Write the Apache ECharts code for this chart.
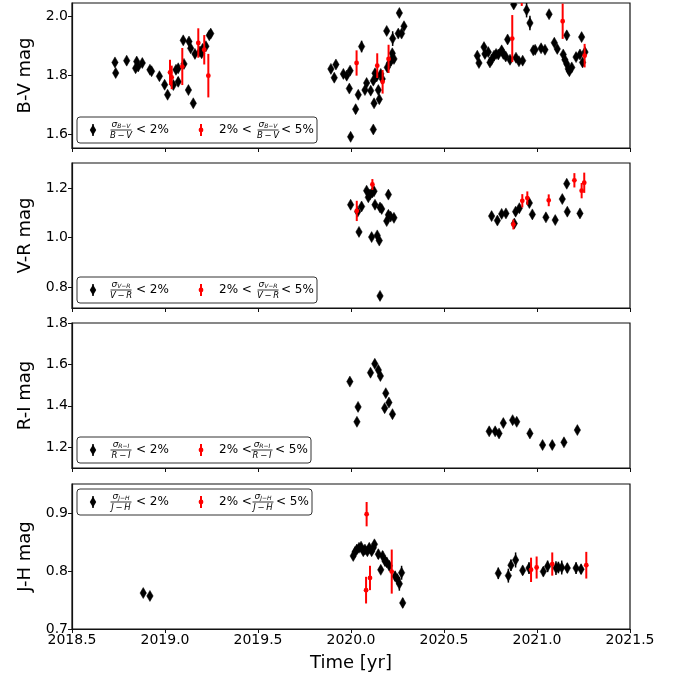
<!DOCTYPE html>
<html>
<head>
<meta charset="utf-8">
<script src="https://cdn.jsdelivr.net/npm/echarts@6/dist/echarts.min.js"></script>
<style>
  html, body { margin: 0; padding: 0; background: #fff; }
  #chart { width: 675px; height: 680px; }
</style>
</head>
<body>
<div id="chart"></div>
<script>
// ---- B-V colour index: precise points (sigma < 2%) ----
const bvBlackT = [2018.731, 2018.735, 2018.794, 2018.842, 2018.848, 2018.856, 2018.878, 2018.919, 2018.928, 2018.970,
  2018.998, 2019.014, 2019.045, 2019.059, 2019.071, 2019.071, 2019.102, 2019.098, 2019.129, 2019.126,
  2019.138, 2019.152, 2019.161, 2019.188, 2019.197, 2019.202, 2019.220, 2019.238, 2019.246,
  2019.892, 2019.910, 2019.919, 2019.959, 2019.977, 2019.991, 2019.995, 2019.998, 2020.025, 2020.039,
  2020.057, 2020.075, 2020.084, 2020.106, 2020.120, 2020.124, 2020.120, 2020.129, 2020.138, 2020.147,
  2020.152, 2020.160, 2020.168, 2020.192, 2020.195, 2020.206, 2020.215, 2020.222, 2020.224, 2020.231,
  2020.254, 2020.260, 2020.272, 2020.285,
  2020.679, 2020.688, 2020.715, 2020.720, 2020.738, 2020.747, 2020.756, 2020.769, 2020.780, 2020.792,
  2020.810, 2020.819, 2020.832, 2020.842, 2020.855, 2020.875, 2020.887, 2020.903, 2020.923, 2020.944,
  2020.962, 2020.980, 2020.990, 2021.022, 2021.043, 2021.065, 2021.093, 2021.109, 2021.141, 2021.150,
  2021.160, 2021.160, 2021.168, 2021.174, 2021.187, 2021.210, 2021.231, 2021.240, 2021.245, 2021.258];
const bvBlackV = [1.843, 1.807, 1.849, 1.823, 1.846, 1.829, 1.841, 1.818, 1.813, 1.796,
  1.767, 1.733, 1.766, 1.818, 1.823, 1.777, 1.838, 1.918, 1.914, 1.749,
  1.891, 1.704, 1.872, 1.880, 1.874, 1.889, 1.898, 1.935, 1.941,
  1.821, 1.791, 1.836, 1.804, 1.798, 1.754, 1.815, 1.590, 1.684, 1.733,
  1.897, 1.749, 1.773, 1.747, 1.615, 1.704, 1.781, 1.806, 1.795, 1.749,
  1.718, 1.804, 1.787, 1.950, 1.826, 1.840, 1.849, 1.874, 1.924, 1.855,
  1.941, 2.011, 1.941, 1.966,
  1.866, 1.841, 1.895, 1.872, 1.878, 1.843, 1.852, 1.866, 1.872, 1.870,
  1.884, 1.872, 1.863, 1.921, 1.852, 2.040, 1.859, 1.847, 1.849, 2.021,
  1.977, 1.884, 1.886, 1.891, 1.886, 2.007, 1.910, 1.889, 1.870, 1.852,
  1.935, 1.838, 1.821, 1.813, 1.826, 1.861, 1.870, 1.929, 1.843, 1.878];
const bvBlackE = [0.008, 0.008, 0.008, 0.008, 0.008, 0.008, 0.008, 0.008, 0.008, 0.008,
  0.008, 0.008, 0.008, 0.010, 0.010, 0.015, 0.010, 0.010, 0.010, 0.010,
  0.010, 0.010, 0.010, 0.010, 0.010, 0.010, 0.010, 0.010, 0.010,
  0.008, 0.008, 0.008, 0.008, 0.008, 0.008, 0.008, 0.010, 0.015, 0.010,
  0.020, 0.010, 0.010, 0.010, 0.010, 0.010, 0.010, 0.010, 0.010, 0.010,
  0.010, 0.010, 0.010, 0.010, 0.010, 0.010, 0.010, 0.010, 0.025, 0.010,
  0.010, 0.010, 0.010, 0.010,
  0.008, 0.008, 0.008, 0.008, 0.008, 0.008, 0.008, 0.008, 0.008, 0.008,
  0.008, 0.008, 0.008, 0.010, 0.008, 0.010, 0.008, 0.008, 0.008, 0.025,
  0.025, 0.008, 0.008, 0.008, 0.008, 0.010, 0.010, 0.008, 0.010, 0.010,
  0.015, 0.010, 0.010, 0.010, 0.010, 0.010, 0.010, 0.010, 0.010, 0.010];
// ---- B-V: 2% < sigma < 5% ----
const bvRedT = [2019.027, 2019.036, 2019.093, 2019.179, 2019.211, 2019.233, 2020.030, 2020.141, 2020.170, 2020.202,
  2020.867, 2020.918, 2021.138, 2021.256];
const bvRedV = [1.809, 1.792, 1.829, 1.909, 1.886, 1.798, 1.841, 1.832, 1.777, 1.855,
  1.924, 2.070, 1.983, 1.866];
const bvRedE = [0.043, 0.040, 0.063, 0.050, 0.050, 0.074, 0.043, 0.042, 0.040, 0.048,
  0.080, 0.035, 0.060, 0.040];

// ---- V-R colour index ----
const vrBlackT = [2019.998, 2020.036, 2020.043, 2020.057, 2020.084, 2020.093, 2020.102, 2020.115, 2020.124, 2020.111,
  2020.129, 2020.141, 2020.152, 2020.156, 2020.165, 2020.192, 2020.201, 2020.201, 2020.213, 2020.231, 2020.156,
  2020.756, 2020.787, 2020.810, 2020.833, 2020.878, 2020.885, 2020.905, 2020.959, 2020.975, 2021.048,
  2021.098, 2021.136, 2021.160, 2021.163, 2021.231];
const vrBlackV = [1.133, 1.105, 1.023, 1.126, 1.190, 1.163, 1.174, 1.183, 1.188, 1.002,
  1.133, 1.009, 0.988, 1.122, 1.116, 1.067, 1.174, 1.092, 1.085, 1.080, 0.764,
  1.087, 1.069, 1.096, 1.098, 1.057, 1.105, 1.119, 1.140, 1.094, 1.082,
  1.071, 1.156, 1.218, 1.105, 1.098];
const vrBlackE = [0.008, 0.008, 0.008, 0.008, 0.008, 0.008, 0.008, 0.008, 0.008, 0.008,
  0.008, 0.008, 0.008, 0.008, 0.008, 0.008, 0.008, 0.008, 0.008, 0.008, 0.008,
  0.008, 0.008, 0.008, 0.008, 0.008, 0.008, 0.008, 0.008, 0.008, 0.008,
  0.008, 0.008, 0.010, 0.008, 0.008];
const vrRedT = [2020.031, 2020.115, 2020.873, 2020.921, 2020.948, 2021.063, 2021.201, 2021.240, 2021.254];
const vrRedV = [1.108, 1.215, 1.053, 1.149, 1.160, 1.151, 1.232, 1.190, 1.222];
const vrRedE = [0.041, 0.022, 0.020, 0.027, 0.027, 0.024, 0.029, 0.031, 0.041];

// ---- R-I colour index ----
const riBlackT = [2019.994, 2020.038, 2020.032, 2020.105, 2020.128, 2020.147, 2020.158, 2020.187, 2020.204, 2020.181, 2020.223,
  2020.743, 2020.775, 2020.796, 2020.819, 2020.869, 2020.891, 2020.962, 2021.030, 2021.082, 2021.145, 2021.217];
const riBlackV = [1.517, 1.395, 1.323, 1.560, 1.603, 1.573, 1.544, 1.461, 1.416, 1.389, 1.360,
  1.277, 1.277, 1.267, 1.317, 1.331, 1.323, 1.267, 1.211, 1.211, 1.224, 1.283];
const riBlackE = [0.010, 0.010, 0.010, 0.010, 0.010, 0.010, 0.010, 0.010, 0.010, 0.010, 0.010,
  0.010, 0.010, 0.010, 0.010, 0.010, 0.010, 0.010, 0.010, 0.010, 0.010, 0.010];
const riRedT = [];
const riRedV = [];
const riRedE = [];

// ---- J-H colour index ----
const jhBlackT = [2018.883, 2018.919,
  2020.012, 2020.022, 2020.031, 2020.043, 2020.054, 2020.066, 2020.075, 2020.088, 2020.098, 2020.111,
  2020.120, 2020.126, 2020.147, 2020.160, 2020.170, 2020.183, 2020.192, 2020.206, 2020.237, 2020.249,
  2020.260, 2020.272, 2020.278,
  2020.792, 2020.846, 2020.860, 2020.885, 2020.923, 2020.957, 2021.034, 2021.057, 2021.102, 2021.115,
  2021.133, 2021.163, 2021.210, 2021.237];
const jhBlackV = [0.762, 0.757,
  0.826, 0.833, 0.837, 0.840, 0.842, 0.834, 0.837, 0.834, 0.840, 0.834,
  0.840, 0.846, 0.829, 0.802, 0.826, 0.817, 0.815, 0.809, 0.791, 0.786,
  0.778, 0.797, 0.745,
  0.796, 0.792, 0.810, 0.819, 0.801, 0.805, 0.799, 0.808, 0.805, 0.806,
  0.806, 0.805, 0.805, 0.803];
const jhBlackE = [0.004, 0.004,
  0.006, 0.006, 0.006, 0.006, 0.006, 0.006, 0.006, 0.006, 0.006, 0.006,
  0.006, 0.006, 0.008, 0.006, 0.008, 0.008, 0.008, 0.008, 0.008, 0.008,
  0.012, 0.012, 0.008,
  0.010, 0.012, 0.010, 0.013, 0.008, 0.010, 0.008, 0.010, 0.012, 0.010,
  0.012, 0.008, 0.010, 0.008];
const jhRedT = [2020.084, 2020.081, 2020.102, 2020.219, 2020.968, 2020.998, 2021.082, 2021.265];
const jhRedV = [0.898, 0.767, 0.788, 0.799, 0.802, 0.806, 0.812, 0.810];
const jhRedE = [0.021, 0.023, 0.021, 0.038, 0.021, 0.019, 0.020, 0.023];

// axis settings
const timeRange = [2018.5, 2021.5];
const timeTicks = [2018.5, 2019.0, 2019.5, 2020.0, 2020.5, 2021.0, 2021.5];
const panelNames = ['B-V mag', 'V-R mag', 'R-I mag', 'J-H mag'];
const panelRanges = [[1.552, 2.045], [0.715, 1.302], [1.10, 1.80], [0.70, 0.95]];
const panelTicks = [[1.6, 1.8, 2.0], [0.8, 1.0, 1.2], [1.2, 1.4, 1.6, 1.8], [0.7, 0.8, 0.9]];
const legendLabels = [['B−V', 'B\u2009−\u2009V'], ['V−R', 'V\u2009−\u2009R'], ['R−I', 'R\u2009−\u2009I'], ['J−H', 'J\u2009−\u2009H']];

const panels = [
  { black: [bvBlackT, bvBlackV, bvBlackE], red: [bvRedT, bvRedV, bvRedE] },
  { black: [vrBlackT, vrBlackV, vrBlackE], red: [vrRedT, vrRedV, vrRedE] },
  { black: [riBlackT, riBlackV, riBlackE], red: [riRedT, riRedV, riRedE] },
  { black: [jhBlackT, jhBlackV, jhBlackE], red: [jhRedT, jhRedV, jhRedE] }
];

// layout (pixels)
const plotLeft = 72, plotWidth = 558;
const gridTops = [3, 163, 323, 484];
const gridH = 145;
const FONT = 'DejaVu Sans';
const RED = '#ff0000';

function zip(arr) {
  return arr[0].map((t, i) => [t, arr[1][i], arr[2][i]]);
}

function errRender(kind) {
  return function (params, api) {
    const x = api.value(0), y = api.value(1), e = api.value(2);
    const p = api.coord([x, y]);
    const hi = api.coord([x, y + e]);
    const lo = api.coord([x, y - e]);
    const color = kind === 'black' ? '#000' : RED;
    const children = [{
      type: 'line',
      shape: { x1: p[0], y1: hi[1], x2: p[0], y2: lo[1] },
      style: { stroke: color, lineWidth: kind === 'black' ? 1.5 : 2 }
    }];
    if (kind === 'black') {
      children.push({
        type: 'polygon',
        shape: { points: [[p[0], p[1] - 5.5], [p[0] + 3.2, p[1]], [p[0], p[1] + 5.5], [p[0] - 3.2, p[1]]] },
        style: { fill: '#000', stroke: '#000', lineWidth: 0.5 }
      });
    } else {
      children.push({
        type: 'circle',
        shape: { cx: p[0], cy: p[1], r: 2.4 },
        style: { fill: RED }
      });
    }
    return { type: 'group', children: children };
  };
}

const grids = [], xAxes = [], yAxes = [], series = [];
panels.forEach((pd, i) => {
  grids.push({
    left: plotLeft, top: gridTops[i], width: plotWidth, height: gridH,
    show: true, borderColor: '#111', borderWidth: 1.2, backgroundColor: 'transparent'
  });
  const last = i === panels.length - 1;
  xAxes.push({
    type: 'value', gridIndex: i, min: timeRange[0], max: timeRange[1],
    axisLine: { show: true, onZero: false, lineStyle: { color: '#111', width: 1.2 } },
    axisTick: { show: true, length: 4, lineStyle: { color: '#111' }, customValues: timeTicks },
    axisLabel: {
      show: last, customValues: timeTicks, formatter: v => v.toFixed(1),
      fontFamily: FONT, fontSize: 14, color: '#000', margin: 4
    },
    splitLine: { show: false },
    name: last ? 'Time [yr]' : '', nameLocation: 'middle', nameGap: 25,
    nameTextStyle: { fontFamily: FONT, fontSize: 18, color: '#000' }
  });
  yAxes.push({
    type: 'value', gridIndex: i, min: panelRanges[i][0], max: panelRanges[i][1],
    axisLine: { show: true, onZero: false, lineStyle: { color: '#111', width: 1.2 } },
    axisTick: { show: true, length: 4, lineStyle: { color: '#111' }, customValues: panelTicks[i] },
    axisLabel: {
      customValues: panelTicks[i], formatter: v => v.toFixed(1),
      fontFamily: FONT, fontSize: 14, color: '#000', margin: 4
    },
    splitLine: { show: false },
    name: panelNames[i], nameLocation: 'middle', nameRotate: 90, nameGap: 38,
    nameTextStyle: { fontFamily: FONT, fontSize: 18, color: '#000' }
  });
  series.push({
    type: 'custom', xAxisIndex: i, yAxisIndex: i, clip: true,
    renderItem: errRender('black'), data: zip(pd.black), z: 3
  });
  series.push({
    type: 'custom', xAxisIndex: i, yAxisIndex: i, clip: true,
    renderItem: errRender('red'), data: zip(pd.red), z: 4
  });
});

// stacked fraction sigma_X / X used in the legend entries
function fraction(cx, cy, sub, den) {
  return [
    {
      type: 'text', x: cx, y: cy - 5.5,
      style: {
        text: '{s|σ}{b|' + sub + '}', align: 'center', verticalAlign: 'middle',
        rich: {
          s: { fontFamily: FONT, fontSize: 9, fontStyle: 'italic', fill: '#000' },
          b: { fontFamily: FONT, fontSize: 6, fontStyle: 'italic', fill: '#000', padding: [3, 0, 0, 0] }
        }
      }
    },
    { type: 'line', shape: { x1: cx - 10.5, y1: cy, x2: cx + 10.5, y2: cy }, style: { stroke: '#000', lineWidth: 0.8 } },
    {
      type: 'text', x: cx, y: cy + 5.5,
      style: { text: den, align: 'center', verticalAlign: 'middle', fontFamily: FONT, fontSize: 8.5, fontStyle: 'italic', fill: '#000' }
    }
  ];
}

function legendGroup(i, bx, by, w) {
  const h = 26, cy = by + h / 2;
  const [sub, den] = legendLabels[i];
  const els = [
    { type: 'rect', shape: { x: bx, y: by, width: w, height: h, r: 3 }, style: { fill: '#fff', stroke: '#333', lineWidth: 1 } },
    { type: 'line', shape: { x1: bx + 16, y1: cy - 6, x2: bx + 16, y2: cy + 6 }, style: { stroke: '#000', lineWidth: 1.5 } },
    { type: 'polygon', shape: { points: [[bx + 16, cy - 5.5], [bx + 19.2, cy], [bx + 16, cy + 5.5], [bx + 12.8, cy]] }, style: { fill: '#000' } },
    { type: 'text', x: bx + 59, y: cy, style: { text: '< 2%', verticalAlign: 'middle', fontFamily: FONT, fontSize: 12, fill: '#000' } },
    { type: 'line', shape: { x1: bx + 124, y1: cy - 6, x2: bx + 124, y2: cy + 6 }, style: { stroke: RED, lineWidth: 2 } },
    { type: 'circle', shape: { cx: bx + 124, cy: cy, r: 2.4 }, style: { fill: RED } },
    { type: 'text', x: bx + 142, y: cy, style: { text: '2% <', verticalAlign: 'middle', fontFamily: FONT, fontSize: 12, fill: '#000' } },
    { type: 'text', x: bx + w - 36, y: cy, style: { text: '< 5%', verticalAlign: 'middle', fontFamily: FONT, fontSize: 12, fill: '#000' } }
  ].concat(fraction(bx + 44, cy, sub, den), fraction(bx + w - 49, cy, sub, den));
  return { type: 'group', z: 10, children: els };
}

const legendBoxes = [
  [77, 117, 240], [77, 277, 240], [77, 437, 234], [77, 489, 235]
];

const chart = echarts.init(document.getElementById('chart'), null, { renderer: 'canvas' });
chart.setOption({
  backgroundColor: '#fff',
  animation: false,
  grid: grids,
  xAxis: xAxes,
  yAxis: yAxes,
  series: series,
  graphic: legendBoxes.map((b, i) => legendGroup(i, b[0], b[1], b[2]))
});
</script>
</body>
</html>
